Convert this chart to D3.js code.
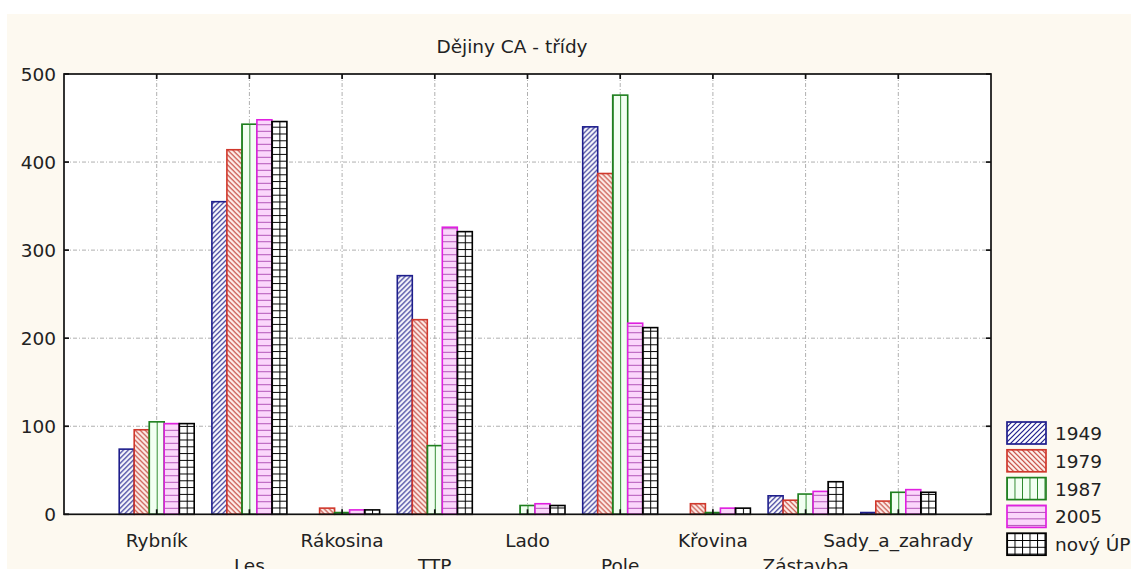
<!DOCTYPE html>
<html>
<head>
<meta charset="utf-8">
<script src="https://cdn.jsdelivr.net/npm/d3@7"></script>
<style>
  html, body { margin: 0; padding: 0; background: #ffffff; overflow: hidden; }
  svg { display: block; }
  text { font-family: "DejaVu Sans", sans-serif; fill: #222222; }
</style>
</head>
<body>
<svg id="chart" width="1131" height="569"></svg>
<script>
const title = "Dějiny CA - třídy";
const categories = ["Rybník", "Les", "Rákosina", "TTP", "Lado", "Pole", "Křovina", "Zástavba", "Sady_a_zahrady"];
const seriesNames = ["1949", "1979", "1987", "2005", "nový ÚP"];
const s1949 = [74, 355, 0, 271, 0, 440, 0, 21, 2];
const s1979 = [96, 414, 7, 221, 0, 387, 12, 16, 15];
const s1987 = [105, 443, 2, 78, 10, 476, 2, 23, 25];
const s2005 = [103, 448, 5, 326, 12, 217, 7, 26, 28];
const sNovy = [103, 446, 5, 321, 10, 212, 7, 37, 25];
const yTicks = [0, 100, 200, 300, 400, 500];

const seriesValues = [s1949, s1979, s1987, s2005, sNovy];

const W = 1131, H = 569;
const plot = { left: 64, right: 991, top: 74, bottom: 514.3 };
const barW = 15;
const fs = 18.5;

const styles = [
  { stroke: "#1e1e8c", kind: "slash", line: "#1e1e8c", bg: "#ffffff" },
  { stroke: "#d0382c", kind: "back", line: "#c03a30", bg: "#fff2ee" },
  { stroke: "#1f7f1f", kind: "vert", line: "#1f7f1f", bg: "#f2fff2" },
  { stroke: "#e020e0", kind: "horiz", line: "#9a2aa0", bg: "#fbd6fb" },
  { stroke: "#000000", kind: "grid", line: "#000000", bg: "#ffffff" }
];

const svg = d3.select("#chart");
const defs = svg.append("defs");

// background
svg.append("rect").attr("x", 0).attr("y", 0).attr("width", W).attr("height", H).attr("fill", "#ffffff");
svg.append("rect").attr("x", 7).attr("y", 14).attr("width", W - 7).attr("height", H - 14).attr("fill", "#fdf9f0");
svg.append("rect").attr("x", plot.left).attr("y", plot.top)
  .attr("width", plot.right - plot.left).attr("height", plot.bottom - plot.top).attr("fill", "#ffffff");

const x = d3.scaleLinear().domain([0, categories.length + 1]).range([plot.left, plot.right]);
const y = d3.scaleLinear().domain([0, 500]).range([plot.bottom, plot.top]);
const off = d3.scaleBand().domain(seriesNames).range([-2.5 * barW, 2.5 * barW]);

let pid = 0;
function makePattern(si, ox, oy) {
  const st = styles[si];
  const id = "pat" + (pid++);
  let p;
  if (st.kind === "slash" || st.kind === "back") {
    const s = 5;
    p = defs.append("pattern").attr("id", id).attr("patternUnits", "userSpaceOnUse")
      .attr("x", ox).attr("y", oy).attr("width", s).attr("height", s);
    p.append("rect").attr("width", s).attr("height", s).attr("fill", st.bg);
    const d = st.kind === "slash"
      ? `M0,${s} L${s},0 M${-1},1 L1,${-1} M${s - 1},${s + 1} L${s + 1},${s - 1}`
      : `M0,0 L${s},${s} M${-1},${s - 1} L1,${s + 1} M${s - 1},${-1} L${s + 1},1`;
    p.append("path").attr("d", d).attr("stroke", st.line).attr("stroke-width", 1.2).attr("fill", "none");
  } else if (st.kind === "vert") {
    const s = 7.5;
    p = defs.append("pattern").attr("id", id).attr("patternUnits", "userSpaceOnUse")
      .attr("x", ox).attr("y", oy).attr("width", s).attr("height", 10);
    p.append("rect").attr("width", s).attr("height", 10).attr("fill", st.bg);
    p.append("line").attr("x1", 0).attr("x2", 0).attr("y1", 0).attr("y2", 10)
      .attr("stroke", st.line).attr("stroke-width", 1.8);
  } else if (st.kind === "horiz") {
    const s = 6.5;
    p = defs.append("pattern").attr("id", id).attr("patternUnits", "userSpaceOnUse")
      .attr("x", ox).attr("y", oy).attr("width", 10).attr("height", s);
    p.append("rect").attr("width", 10).attr("height", s).attr("fill", st.bg);
    p.append("line").attr("x1", 0).attr("x2", 10).attr("y1", 0).attr("y2", 0)
      .attr("stroke", st.line).attr("stroke-width", 1.5);
  } else {
    const sx = 7.5, sy = 6.8;
    p = defs.append("pattern").attr("id", id).attr("patternUnits", "userSpaceOnUse")
      .attr("x", ox).attr("y", oy).attr("width", sx).attr("height", sy);
    p.append("rect").attr("width", sx).attr("height", sy).attr("fill", st.bg);
    p.append("path").attr("d", `M0,0 L0,${sy} M0,0 L${sx},0`)
      .attr("stroke", st.line).attr("stroke-width", 2).attr("fill", "none");
  }
  return id;
}

// gridlines
const gridG = svg.append("g");
gridG.selectAll("line.h").data(yTicks.filter(t => t > 0 && t < 500)).join("line")
  .attr("x1", plot.left).attr("x2", plot.right)
  .attr("y1", d => y(d)).attr("y2", d => y(d))
  .attr("stroke", "#b0b0b0").attr("stroke-width", 1).attr("stroke-dasharray", "4,2,1,2");
gridG.selectAll("line.v").data(categories).join("line")
  .attr("x1", (d, i) => x(i + 1)).attr("x2", (d, i) => x(i + 1))
  .attr("y1", plot.top).attr("y2", plot.bottom)
  .attr("stroke", "#b0b0b0").attr("stroke-width", 1).attr("stroke-dasharray", "4,2,1,2");

// bars
const barData = [];
seriesValues.forEach((vals, si) => {
  vals.forEach((v, ci) => barData.push({ si, ci, v }));
});
svg.append("g").selectAll("rect").data(barData.filter(d => d.v > 0)).join("rect")
  .each(function (d) {
    const bx = x(d.ci + 1) + off(seriesNames[d.si]);
    const by = y(d.v);
    const id = makePattern(d.si, bx, plot.bottom);
    d3.select(this)
      .attr("x", bx).attr("y", by)
      .attr("width", barW).attr("height", plot.bottom - by)
      .attr("fill", `url(#${id})`)
      .attr("stroke", styles[d.si].stroke)
      .attr("stroke-width", 1.6);
  });

// frame
svg.append("rect").attr("x", plot.left).attr("y", plot.top)
  .attr("width", plot.right - plot.left).attr("height", plot.bottom - plot.top)
  .attr("fill", "none").attr("stroke", "#111").attr("stroke-width", 1.7);

// ticks (inward)
const tickG = svg.append("g").attr("stroke", "#111").attr("stroke-width", 1.7);
yTicks.forEach(t => {
  tickG.append("line").attr("x1", plot.left).attr("x2", plot.left + 5).attr("y1", y(t)).attr("y2", y(t));
  tickG.append("line").attr("x1", plot.right).attr("x2", plot.right - 5).attr("y1", y(t)).attr("y2", y(t));
});
categories.forEach((c, i) => {
  tickG.append("line").attr("x1", x(i + 1)).attr("x2", x(i + 1)).attr("y1", plot.top).attr("y2", plot.top + 5);
  tickG.append("line").attr("x1", x(i + 1)).attr("x2", x(i + 1)).attr("y1", plot.bottom).attr("y2", plot.bottom - 5);
});

// y tick labels
svg.append("g").selectAll("text").data(yTicks).join("text")
  .attr("x", plot.left - 8).attr("y", d => y(d) + 7)
  .attr("text-anchor", "end").attr("font-size", fs)
  .text(d => d);

// category labels in two staggered rows
svg.append("g").selectAll("text").data(categories).join("text")
  .attr("x", (d, i) => x(i + 1))
  .attr("y", (d, i) => i % 2 === 0 ? 547 : 572)
  .attr("text-anchor", "middle").attr("font-size", fs)
  .text(d => d);

// title
svg.append("text").attr("x", 512).attr("y", 53).attr("text-anchor", "middle")
  .attr("font-size", fs).text(title);

// legend
const legG = svg.append("g");
seriesNames.forEach((name, si) => {
  const ly = 422 + si * 27.8;
  const lx = 1007;
  const id = makePattern(si, lx, ly);
  legG.append("rect").attr("x", lx).attr("y", ly).attr("width", 39).attr("height", 22)
    .attr("fill", `url(#${id})`).attr("stroke", styles[si].stroke).attr("stroke-width", 1.7);
  legG.append("text").attr("x", lx + 48).attr("y", ly + 18).attr("font-size", fs).text(name);
});
</script>
</body>
</html>
